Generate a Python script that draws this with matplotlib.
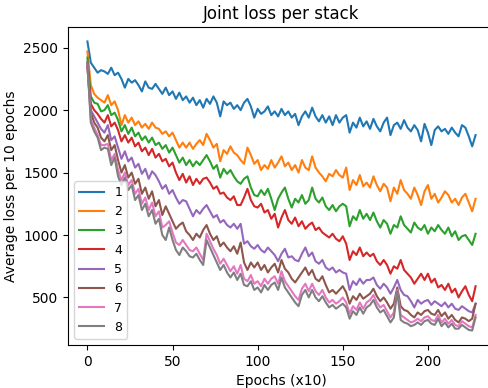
import numpy as np
import matplotlib
matplotlib.use('Agg')
import matplotlib.pyplot as plt

# --- Data (one value every 2 epochs) ---
EPOCH_STEP = 2

stack_1 = [2550, 2380, 2340, 2300, 2320, 2310, 2290, 2340, 2280, 2300,
           2250, 2180, 2250, 2220, 2240, 2200, 2150, 2230, 2180, 2170,
           2210, 2170, 2130, 2180, 2120, 2150, 2090, 2140, 2080, 2110,
           2060, 2100, 2040, 2080, 2020, 2090, 2050, 2110, 2060, 1950,
           2070, 2040, 2060, 2010, 2040, 2000, 2060, 2090, 2030, 1940,
           2010, 1970, 1990, 2030, 1960, 1990, 1950, 2010, 1960, 1990,
           1940, 1970, 1880, 1950, 1990, 1940, 2020, 1950, 1910, 1960,
           1900, 1950, 1880, 1960, 1900, 1940, 1960, 1820, 1900, 1860,
           1940, 1870, 1910, 1850, 1930, 1870, 1830, 1900, 1940, 1800,
           1880, 1900, 1850, 1920, 1860, 1830, 1880, 1840, 1750, 1890,
           1820, 1720, 1840, 1870, 1830, 1850, 1810, 1860, 1820, 1790,
           1880, 1860, 1790, 1710, 1800]

stack_2 = [2470, 2200, 2130, 2100, 2080, 2060, 2120, 2040, 2070, 2000,
           1880, 1960, 1900, 1940, 1880, 1910, 1860, 1890, 1850, 1900,
           1860, 1850, 1810, 1830, 1790, 1820, 1760, 1700, 1740, 1700,
           1740, 1690, 1730, 1760, 1720, 1810, 1760, 1700, 1730, 1590,
           1680, 1650, 1710, 1660, 1640, 1600, 1570, 1700, 1640, 1570,
           1600, 1520, 1560, 1530, 1600, 1540, 1580, 1630, 1550, 1580,
           1520, 1560, 1500, 1600, 1540, 1520, 1630, 1540, 1500, 1470,
           1430, 1490, 1470, 1520, 1480, 1460, 1540, 1360, 1440, 1400,
           1480, 1390, 1420, 1380, 1470, 1400, 1350, 1410, 1380, 1270,
           1380, 1330, 1440, 1360, 1330, 1290, 1380, 1320, 1240, 1350,
           1400, 1290, 1330, 1260, 1300, 1350, 1320, 1260, 1290, 1240,
           1300, 1330, 1260, 1190, 1290]

stack_3 = [2420, 2110, 2060, 2050, 1990, 2000, 2040, 1960, 1980, 1920,
           1830, 1880, 1810, 1860, 1790, 1820, 1760, 1790, 1740, 1780,
           1720, 1740, 1690, 1720, 1660, 1700, 1640, 1580, 1620, 1560,
           1600, 1550, 1590, 1560, 1600, 1640, 1590, 1530, 1560, 1460,
           1530, 1490, 1520, 1470, 1430, 1410, 1450, 1470, 1380, 1320,
           1310, 1360, 1320, 1370, 1290, 1200, 1290, 1340, 1380, 1290,
           1220, 1290, 1260, 1320, 1250, 1280, 1380, 1290, 1260, 1300,
           1230, 1200, 1240, 1190, 1230, 1250, 1230, 1070, 1150, 1120,
           1200, 1130, 1170, 1120, 1180, 1110, 1060, 1120, 1090, 1010,
           1080, 1060, 1150, 1080, 1050, 1020, 1100, 1060, 1040, 1080,
           1010, 1060, 1030, 1080, 1040, 1010, 1060, 990, 1030, 960,
           990, 1000, 960, 920, 1010]

stack_4 = [2380, 2050, 2000, 1970, 1930, 1900, 1960, 1870, 1900, 1840,
           1750, 1800, 1740, 1780, 1710, 1740, 1670, 1700, 1640, 1690,
           1620, 1650, 1590, 1610, 1550, 1580, 1500, 1440, 1490, 1420,
           1470, 1400, 1450, 1410, 1450, 1460, 1420, 1370, 1390, 1330,
           1340, 1300, 1280, 1310, 1240, 1240, 1300, 1370, 1280, 1230,
           1220, 1250, 1180, 1200, 1130, 1170, 1060, 1140, 1200, 1120,
           1090, 1140, 1070, 1110, 1050, 1080, 1100, 1040, 1060, 1020,
           1000, 980, 1010, 970, 950, 990, 930, 800, 870, 840,
           900, 830, 860, 830, 850, 790, 760, 800, 760, 690,
           750, 730, 800, 720, 690, 660, 610, 650, 690, 640,
           690, 620, 650, 580, 600, 560, 610, 540, 570, 500,
           550, 590, 520, 470, 590]

stack_5 = [2350, 2000, 1950, 1900, 1850, 1820, 1880, 1760, 1790, 1700,
           1610, 1670, 1590, 1620, 1540, 1570, 1490, 1530, 1450, 1510,
           1480, 1430, 1370, 1400, 1330, 1360, 1300, 1250, 1280, 1270,
           1210, 1150, 1200, 1170, 1210, 1240, 1190, 1140, 1160, 1100,
           1120, 1080, 1060, 1090, 1050, 1090, 930, 950, 910, 890,
           920, 880, 860, 900, 870, 840, 790, 850, 890, 820,
           830, 800, 790, 850, 900, 830, 860, 790, 770, 800,
           740, 720, 740, 700, 720, 700, 690, 560, 630, 600,
           650, 610, 640, 640, 660, 600, 570, 610, 580, 530,
           580, 640, 560, 520, 510, 470, 420, 480, 450, 470,
           480, 440, 470, 450, 430, 460, 420, 450, 410, 400,
           430, 410, 390, 380, 450]

stack_6 = [2350, 1980, 1900, 1860, 1780, 1750, 1800, 1680, 1720, 1600,
           1500, 1560, 1460, 1500, 1410, 1450, 1330, 1380, 1290, 1350,
           1230, 1280, 1160, 1230, 1170, 1110, 1050, 1080, 1100, 1030,
           1000, 960, 1010, 980, 1040, 1080, 1010, 960, 990, 910,
           940, 900, 870, 910, 850, 940, 780, 720, 780, 740,
           780, 720, 760, 700, 740, 770, 700, 800, 730, 700,
           650, 620, 660, 700, 740, 680, 720, 650, 630, 670,
           600, 540, 560, 530, 560, 590, 540, 450, 510, 480,
           530, 490, 510, 530, 570, 510, 470, 500, 460, 410,
           450, 580, 430, 400, 390, 360, 340, 380, 360, 390,
           400, 370, 360, 400, 350, 380, 330, 360, 320, 300,
           340, 330, 310, 330, 450]

stack_7 = [2370, 1930, 1860, 1800, 1720, 1720, 1730, 1600, 1650, 1520,
           1440, 1500, 1400, 1440, 1330, 1370, 1250, 1300, 1200, 1260,
           1150, 1190, 1060, 1080, 1110, 1020, 940, 920, 960, 920,
           880, 870, 900, 850, 800, 1010, 950, 890, 840, 770,
           810, 760, 710, 750, 690, 760, 650, 630, 680, 610,
           630, 590, 650, 610, 650, 670, 610, 710, 630, 590,
           550, 510, 480, 570, 610, 550, 610, 550, 520, 560,
           500, 460, 480, 450, 470, 500, 460, 370, 430, 400,
           460, 410, 460, 480, 520, 460, 420, 440, 390, 340,
           380, 560, 360, 340, 320, 300, 310, 330, 310, 340,
           350, 320, 310, 360, 300, 330, 290, 320, 280, 270,
           310, 290, 270, 260, 360]

stack_8 = [2380, 1900, 1830, 1780, 1680, 1700, 1690, 1560, 1620, 1470,
           1400, 1460, 1360, 1400, 1280, 1320, 1200, 1250, 1150, 1200,
           1090, 1130, 1000, 960, 1060, 960, 880, 840, 900, 870,
           830, 820, 850, 800, 760, 960, 900, 840, 780, 720,
           760, 700, 660, 700, 640, 690, 600, 590, 630, 560,
           580, 540, 600, 560, 600, 620, 560, 660, 580, 540,
           500, 460, 430, 520, 560, 500, 560, 500, 470, 510,
           460, 420, 440, 410, 430, 450, 420, 330, 390, 360,
           420, 370, 420, 440, 480, 420, 380, 400, 350, 300,
           340, 550, 320, 300, 290, 270, 280, 300, 280, 310,
           320, 290, 280, 330, 270, 300, 260, 290, 250, 250,
           280, 260, 240, 235, 340]

stacks = [stack_1, stack_2, stack_3, stack_4, stack_5, stack_6, stack_7, stack_8]
labels = ['1', '2', '3', '4', '5', '6', '7', '8']


def main():
    fig = plt.figure(figsize=(4.88, 3.88), dpi=100)
    # axes runs a bit past the right edge, like the cropped reference
    ax = fig.add_axes([68 / 488, 43 / 388, 427 / 488, 318 / 388])

    for values, label in zip(stacks, labels):
        epochs = np.arange(len(values)) * EPOCH_STEP
        ax.plot(epochs, values, label=label, linewidth=1.5)

    ax.set_title('Joint loss per stack')
    ax.set_xlabel('Epochs (x10)')
    ax.set_ylabel('Average loss per 10 epochs')
    ax.legend(loc='lower left', fontsize=9)

    fig.savefig('out.png', dpi=100)


if __name__ == "__main__":
    main()
